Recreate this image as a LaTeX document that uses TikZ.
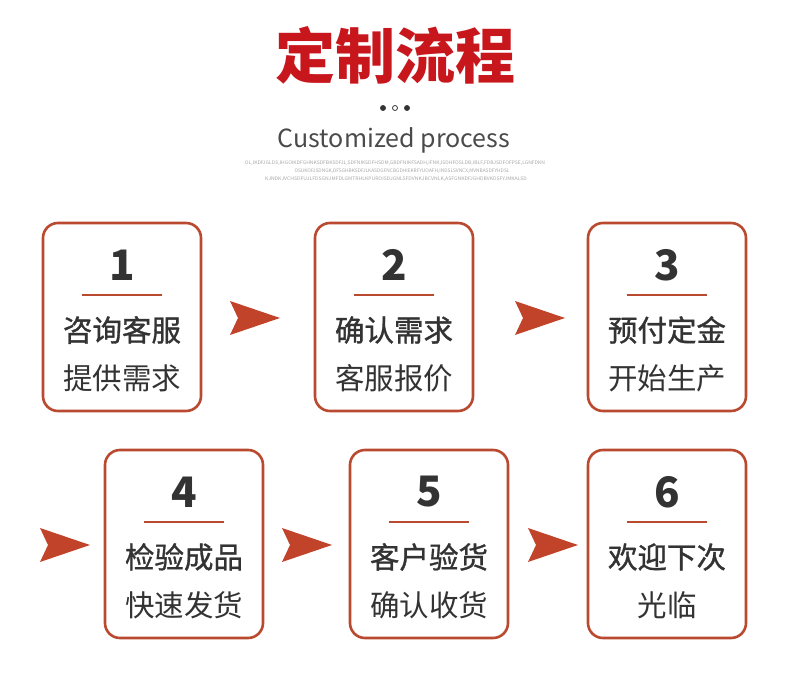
\documentclass[tikz,border=0pt]{standalone}
\usepackage{fontspec}
\setmainfont{Noto Sans CJK SC}
\newfontfamily\cjkmed{Noto Sans CJK SC}[FakeBold=1.1]
\usetikzlibrary{calc,positioning}
\definecolor{titlered}{HTML}{C8161D}
\definecolor{rust}{HTML}{B9492F}
\definecolor{arrowc}{HTML}{C1432A}
\definecolor{ink}{HTML}{333333}
\definecolor{greytxt}{HTML}{4A4A4A}

\tikzset{
  card/.style={draw=rust, line width=2.6pt, rounded corners=15pt, minimum width=158pt, minimum height=188pt, fill=white},
  num/.style={font=\bfseries\fontsize{42}{42}\selectfont, text=ink},
  lineA/.style={font=\cjkmed\fontsize{29.5}{30}\selectfont, text=ink},
  lineB/.style={font=\fontsize{29.5}{30}\selectfont, text=ink},
  dotc/.style={circle, draw=ink, line width=0.8pt, inner sep=0pt, minimum size=5pt},
  tiny/.style={text=gray!70, inner sep=0pt}
}

\begin{document}
\begin{tikzpicture}[x=1pt,y=-1pt]
  \useasboundingbox (0,0) rectangle (790,690);
  % heading
  \node[font=\bfseries\fontsize{60}{60}\selectfont, text=titlered] (title) at (395,55) {定制流程};
  \node[dotc, fill=ink] (dl) at (383,108) {};
  \node[dotc] (dm) at (395,108) {};
  \node[dotc, fill=ink] (dr) at (407,108) {};
  \node[font=\fontsize{25}{25}\selectfont, text=greytxt] (sub) at (394,140) {Customized process};
  \node[tiny] (s1) at (395,163) {\resizebox{300pt}{3.6pt}{OL,IKDFJGLDS,IHGOIKDFGHNKSDFBKSDFJL,SDFNIKSDFHSDM,GBDFNIKFSADH,IFNK,ISDHFOSLDB,IBLF,FDBJSDFOFPSE,LGNFDKN}};
  \node[tiny] (s2) at (402,171) {\resizebox{215pt}{3.6pt}{OSUKOFJSDNGK,DFSGHBKSDFJLKASDGFNCBGDHIEKRFYUOAFH,INDSLSVNCX,MVNBASDFYHDSL}};
  \node[tiny] (s3) at (396,179) {\resizebox{262pt}{3.6pt}{KJNDKJVCHSDFUJLFDSGNJMFDLGMTRHLKPUROISDJGNLSFDVNKJBCVNLK,ASFGNKDFJGHDBVKDSFYJMKALSD}};
  % step cards
  \foreach \i/\x/\y/\a/\b in {1/122/317/咨询客服/提供需求, 2/394/317/确认需求/客服报价, 3/667/317/预付定金/开始生产,
                            4/184/544/检验成品/快速发货, 5/429/544/客户验货/确认收货, 6/667/544/欢迎下次/光临}{
    \node[card] (b\i) at (\x,\y) {};
    \node[num] (n\i) at ([yshift=52pt]b\i.center) {\i};
    \draw[rust, line width=2.4pt] ([xshift=-40pt,yshift=22pt]b\i.center) -- ([xshift=40pt,yshift=22pt]b\i.center);
    \node[lineA] (p\i) at ([yshift=-13pt]b\i.center) {\a};
    \node[lineB] (q\i) at ([yshift=-61pt]b\i.center) {\b};
  }
  % arrows between cards
  \foreach \x/\y in {255/318, 540/318, 65/545, 307/545, 553/545}{
    \fill[arrowc] (\x-25,\y-17) -- (\x+25,\y) -- (\x-25,\y+17) -- (\x-17,\y) -- cycle;
  }
\end{tikzpicture}
\end{document}
